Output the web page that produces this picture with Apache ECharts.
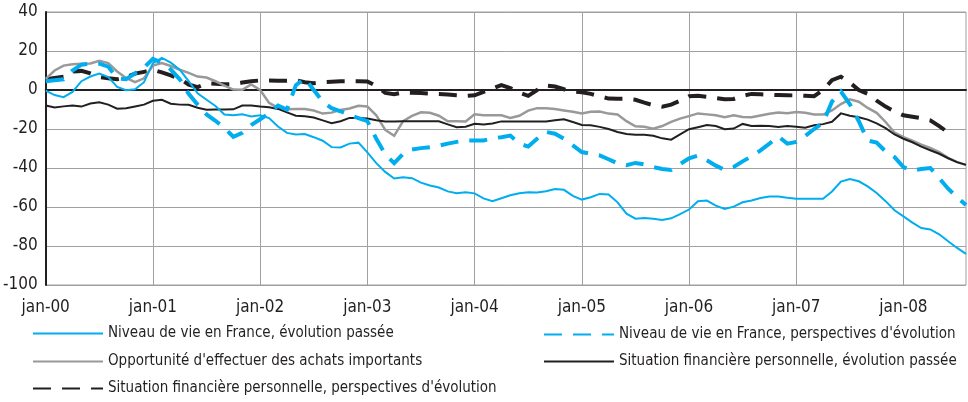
<!DOCTYPE html>
<html>
<head>
<meta charset="utf-8">
<script src="https://cdn.jsdelivr.net/npm/echarts@6/dist/echarts.min.js"></script>
<style>
  html, body { margin: 0; padding: 0; background: #fff; }
  #chart { width: 968px; height: 402px; }
</style>
</head>
<body>
<div id="chart"></div>
<script>
// mois, de jan-00 à aoû-08
const monthNames = ['jan', 'fév', 'mar', 'avr', 'mai', 'juin', 'juil', 'aoû', 'sep', 'oct', 'nov', 'déc']
const categories = []
for (let y = 0; y <= 8; y++) {
  for (let m = 0; m < 12; m++) {
    if (y === 8 && m > 7) break
    categories.push(monthNames[m] + '-0' + y)
  }
}

const yTicks = { min: -100, max: 40, interval: 20 }

const seriesNames = [
  'Niveau de vie en France, évolution passée',
  "Niveau de vie en France, perspectives d'évolution",
  "Opportunité d'effectuer des achats importants",
  'Situation financière personnelle, évolution passée',
  "Situation financière personnelle, perspectives d'évolution"
]

// Niveau de vie en France, évolution passée
const niveauPasse = [
  -0.3, -2.6, -3.7, -1, 4.5, 6.9, 8.4, 6.6, 1.6, -0.1, 0.4, 4,
  13.8, 16.5, 14, 10.4, 4.5, -1.7, -5, -8.2, -12.6, -13, -12.4, -13.6,
  -13, -14.4, -18.7, -22, -22.8, -22.6, -24.2, -26, -29.3, -29.5, -27.5, -27,
  -32, -37.5, -42, -45.4, -44.8, -45.2, -47.5, -49, -50, -52, -52.9, -52.4,
  -53, -55.6, -57, -55.5, -54, -53, -52.5, -52.6, -51.9, -50.8, -51.2, -54.3,
  -56.2, -55, -53.3, -53.6, -57.6, -63.4, -66, -65.6, -66, -66.6, -65.8, -63.7,
  -61.3, -57, -56.7, -59.3, -61, -59.8, -57.6, -56.7, -55.4, -54.6, -54.6, -55.3,
  -55.8, -55.8, -55.8, -55.8, -52, -47, -45.7, -46.8, -49.4, -52.8, -57, -61.7,
  -64.8, -68, -70.8, -71.5, -74, -77.6, -81, -84
]

// Niveau de vie en France, perspectives d'évolution
const niveauPersp = [
  4.5, 5, 5.5, 10, 13, 13.5, 13.5, 12, 6, 5.5, 8.5, 11.5,
  16, 14, 10.5, 5.5, -2, -7.5, -12.5, -15.8, -19.5, -24, -22, -18,
  -15, -12, -8, -10, 2.5, 6, 0, -6, -9.3, -10.9, -12.7, -14.4,
  -16, -25, -33, -37.5, -32.7, -30.5, -29.8, -29.3, -28.6, -27.5, -26.6, -25.9,
  -25.9, -25.9, -24.8, -24.2, -23.4, -27.5, -29, -25, -21.5, -22.4, -25, -28.4,
  -31.8, -32.7, -33.5, -35.5, -37.6, -38.6, -37.4, -38.2, -39.5, -40.5, -41, -38,
  -35, -33.6, -36, -38.8, -41, -39.5, -36.6, -34, -31, -27.5, -23.8, -27.5,
  -26.6, -23.6, -20, -16.8, -6, -0.8, -7.3, -16, -25.9, -27, -31.5, -34.4,
  -39.5, -41.4, -40.5, -40, -45.2, -50.6, -55, -59
]

// Opportunité d'effectuer des achats importants
const opportunite = [
  5.7, 10, 12.5, 13.2, 13.4, 13.6, 15, 13.8, 9.5, 6.2, 4, 6,
  12.5, 13.8, 12.3, 10.4, 8.8, 6.9, 6.4, 4.5, 2.2, 0.2, 0.1, 2.8,
  0, -6.6, -9.2, -9.9, -9.7, -9.8, -10.5, -12.1, -11.6, -10.2, -9.5, -8.1,
  -8.5, -13, -20.5, -23.5, -16, -13.3, -11.4, -11.7, -13.2, -16, -16, -16.2,
  -12.5, -13, -13, -13, -14.3, -13.2, -10.6, -9.3, -9.3, -9.7, -10.5, -11.2,
  -12, -11.2, -11, -12.1, -12.6, -16, -18.6, -18.8, -19.8, -18.5, -16.3, -14.7,
  -13.4, -12, -12.5, -13, -14, -13, -13.8, -14, -13.1, -12.2, -11.6, -11.9,
  -11.3, -11.7, -12.6, -12.6, -10.5, -7.2, -4.8, -6, -9.2, -11.7, -16.4, -21.8,
  -24.2, -26, -28, -29.7, -31.9, -34.8, -37, -38.4
]

// Situation financière personnelle, évolution passée
const situationPasse = [
  -7.9, -9, -8.4, -7.9, -8.5, -6.9, -6.3, -7.5, -9.6, -9.4, -8.5, -7.5,
  -5.5, -5, -7, -7.5, -7.6, -9.1, -10.1, -10, -10, -9.9, -8, -7.9,
  -8.5, -8.8, -9.7, -11.5, -13.2, -13.5, -14.1, -15.6, -17, -16, -14.3, -14.3,
  -14.6, -15.5, -16.2, -16.1, -16, -16, -16, -16, -16, -17.6, -19.1, -18.8,
  -17.3, -17.7, -17.2, -16.1, -16.2, -16.2, -16.2, -16.2, -16.1, -15.5, -15, -16.4,
  -17.9, -18.1, -18.9, -20, -21.5, -22.6, -23, -23, -23.5, -24.8, -25.5, -22.8,
  -20.1, -19.1, -18, -18.5, -20.1, -19.8, -17.4, -18.5, -18.3, -18.5, -19, -18.5,
  -18.8, -19.3, -18.1, -17.5, -16.3, -12, -13.2, -14, -15.2, -17.1, -19.6, -22.8,
  -25, -26.8, -29, -30.9, -32.7, -35, -37, -38.4
]

// Situation financière personnelle, perspectives d'évolution
const situationPersp = [
  5.5, 6.2, 6.8, 9.5, 9.8, 8.5, 6.7, 6, 5.5, 6.5, 8.4, 9.3,
  10.3, 9, 7.5, 5.8, 2.8, 1.5, 3.4, 3.2, 3, 3, 3.8, 4.5,
  4.9, 4.9, 4.8, 4.8, 5, 4, 3.5, 4, 4.2, 4.5, 4.5, 4.5,
  4.4, 2, -1.5, -2.2, -1.2, -1.4, -1.6, -1.9, -2.1, -2.3, -2.7, -3,
  -2.7, -1, 0.8, 2.5, 1, -1.3, -3, 0, 2.3, 1.8, 0.4, -0.8,
  -1.2, -2, -3.2, -4.4, -4.5, -4.5, -5, -6.5, -7.8, -8.6, -7.5, -5.5,
  -3.2, -3, -3.5, -4.2, -4.7, -4.6, -3, -2, -2.2, -2.4, -2.6, -2.7,
  -2.8, -3, -3.2, 0, 5, 6.8, 3.8, 0, -2, -5.5, -8.5, -11,
  -13, -13.7, -14.5, -15.6, -18.5, -21.8
]

const BLUE = '#00AEEF'
const GREY = '#999999'
const BLACK = '#231F20'
const FONT = "'Liberation Sans Narrow', 'DejaVu Sans Condensed', 'Liberation Sans', sans-serif"

const chart = echarts.init(document.getElementById('chart'))

function line (name, data, color, width, type, z) {
  return {
    name,
    type: 'line',
    data,
    symbol: 'none',
    z,
    animation: false,
    lineStyle: { color, width, type, cap: 'butt', join: 'miter' },
    itemStyle: { color }
  }
}

// une légende par entrée, placée comme sur l'original
function legendItem (idx, left, midY) {
  return {
    data: [seriesNames[idx]],
    left,
    top: midY - 7,
    padding: 0,
    itemWidth: 70,
    itemHeight: 14,
    itemStyle: { opacity: 0 },
    textStyle: { fontFamily: FONT, fontSize: 15, lineHeight: 14, color: BLACK }
  }
}

chart.setOption({
  animation: false,
  textStyle: { fontFamily: FONT },
  grid: {
    left: 45,
    right: 2,
    top: 12,
    bottom: 117,
    show: true,
    borderColor: '#a0a0a0',
    borderWidth: 1
  },
  legend: [
    legendItem(0, 32, 333),
    legendItem(2, 32, 361),
    legendItem(4, 32, 388),
    legendItem(1, 543, 334),
    legendItem(3, 543, 361)
  ],
  xAxis: {
    type: 'category',
    data: categories,
    boundaryGap: false,
    axisLine: { lineStyle: { color: BLACK, width: 2 } },
    axisTick: { show: false },
    axisLabel: {
      interval: 11,
      margin: 14,
      fontSize: 17,
      color: BLACK,
      fontFamily: FONT
    },
    splitLine: {
      show: true,
      interval: 11,
      lineStyle: { color: '#a0a0a0', width: 1 }
    }
  },
  yAxis: {
    type: 'value',
    min: yTicks.min,
    max: yTicks.max,
    interval: yTicks.interval,
    axisLine: { show: true, lineStyle: { color: BLACK, width: 2 } },
    axisTick: { show: false },
    axisLabel: { fontSize: 17, color: BLACK, margin: 8, fontFamily: FONT },
    splitLine: { lineStyle: { color: '#a0a0a0', width: 1 } }
  },
  series: [
    line(seriesNames[0], niveauPasse, BLUE, 2, 'solid', 5),
    line(seriesNames[1], niveauPersp, BLUE, 4, [18, 11], 4),
    line(seriesNames[2], opportunite, GREY, 2.5, 'solid', 2),
    line(seriesNames[3], situationPasse, BLACK, 2, 'solid', 3),
    line(seriesNames[4], situationPersp, BLACK, 4, [18, 11], 1)
  ]
})
</script>
</body>
</html>
